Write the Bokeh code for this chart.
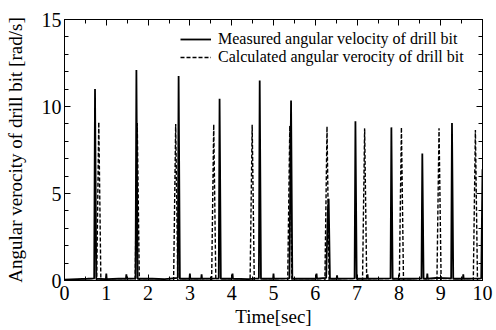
from bokeh.plotting import figure
from bokeh.models import Range1d, LinearAxis, Legend, LegendItem, FixedTicker
from bokeh.embed import file_html
from bokeh.resources import INLINE

# Measured angular velocity of drill bit (time [s], value [rad/s])
measured_t = [0.00, 0.30, 0.55, 0.71, 0.73, 0.76, 0.99, 1.00, 1.01, 1.30, 1.47, 1.48, 1.49,
              1.70, 1.72, 1.75, 2.10, 2.40, 2.71, 2.73, 2.76, 2.99, 3.00, 3.01, 3.27, 3.28, 3.29,
              3.69, 3.71, 3.74, 4.01, 4.02, 4.03, 4.40, 4.65, 4.67, 4.70, 4.99, 5.00, 5.01,
              5.38, 5.42, 5.45, 6.02, 6.03, 6.04, 6.26, 6.30, 6.32, 6.35, 6.51, 6.52, 6.53,
              6.94, 6.96, 6.99, 7.24, 7.25, 7.26, 7.80, 7.82, 7.85, 8.30, 8.54, 8.56, 8.59,
              8.67, 8.68, 8.69, 8.90, 9.25, 9.27, 9.30, 9.53, 9.54, 9.55, 9.97, 10.00]
measured_v = [0.05, 0.08, 0.10, 0.12, 11.0, 0.10, 0.08, 0.40, 0.08, 0.10, 0.10, 0.35, 0.10,
              0.12, 12.1, 0.10, 0.10, 0.08, 0.15, 11.75, 0.10, 0.10, 0.40, 0.10, 0.10, 0.35, 0.10,
              0.12, 10.45, 0.10, 0.10, 0.40, 0.10, 0.08, 0.12, 11.5, 0.10, 0.10, 0.40, 0.10,
              0.12, 10.35, 0.10, 0.10, 0.40, 0.10, 0.15, 4.0, 4.7, 0.10, 0.10, 0.30, 0.10,
              0.12, 9.15, 0.10, 0.10, 0.35, 0.10, 0.12, 8.8, 0.10, 0.10, 0.12, 7.3, 0.10,
              0.10, 0.40, 0.10, 0.15, 0.12, 9.05, 0.10, 0.10, 0.35, 0.10, 0.12, 6.4]

# Calculated angular velocity of drill bit
calc_t = [0.00, 0.77, 0.82, 0.87, 1.69, 1.74, 1.79, 2.61, 2.66, 2.71, 3.52, 3.57, 3.62,
          4.44, 4.49, 4.54, 5.34, 5.39, 5.44, 6.23, 6.28, 6.33, 7.13, 7.18, 7.23,
          8.01, 8.06, 8.11, 8.91, 8.96, 9.01, 9.78, 9.83, 9.88, 10.00]
calc_v = [0.0, 0.0, 9.1, 0.0, 0.0, 9.05, 0.0, 0.0, 9.0, 0.0, 0.0, 8.97, 0.0,
          0.0, 8.95, 0.0, 0.0, 8.9, 0.0, 0.0, 8.85, 0.0, 0.0, 8.75, 0.0,
          0.0, 8.8, 0.0, 0.0, 8.75, 0.0, 0.0, 8.65, 0.0, 0.0]

x_ticks = [0, 1, 2, 3, 4, 5, 6, 7, 8, 9, 10]
y_ticks = [0, 5, 10, 15]

FONT = "Times New Roman, Liberation Serif, serif"

p = figure(width=496, height=330, output_backend="svg", toolbar_location=None,
           x_range=Range1d(0, 10), y_range=Range1d(0, 15),
           min_border_left=64, min_border_right=14, min_border_top=19, min_border_bottom=50,
           x_axis_label="Time[sec]", y_axis_label="Angular verocity of drill bit [rad/s]")
p.xgrid.visible = False
p.ygrid.visible = False
p.outline_line_color = "black"
p.outline_line_width = 1
p.background_fill_color = "white"
p.border_fill_color = "white"

r1 = p.line(measured_t, measured_v, line_color="black", line_width=1.8)
r2 = p.line(calc_t, calc_v, line_color="black", line_width=1.4, line_dash="4 2")

def style_axis(ax, labels=True):
    ax.axis_line_color = "black"
    ax.major_tick_in = 6
    ax.major_tick_out = 0
    ax.minor_tick_in = 4
    ax.minor_tick_out = 0
    ax.major_tick_line_color = "black"
    ax.minor_tick_line_color = "black"
    ax.major_label_text_font = FONT
    ax.major_label_text_font_size = "20px"
    ax.major_label_text_color = "black" if labels else None
    ax.axis_label_text_font = FONT
    ax.axis_label_text_font_size = "19px"
    ax.axis_label_text_font_style = "normal"
    ax.axis_label_text_color = "black"

xt = FixedTicker(ticks=x_ticks, minor_ticks=[i * 0.5 for i in range(21)])
yt = FixedTicker(ticks=y_ticks, minor_ticks=list(range(16)))

p.xaxis[0].ticker = xt
p.yaxis[0].ticker = yt
style_axis(p.xaxis[0])
style_axis(p.yaxis[0])
p.xaxis[0].major_label_standoff = 5
p.xaxis[0].axis_label_standoff = 3
p.yaxis[0].major_label_standoff = 3
p.yaxis[0].axis_label_standoff = 13

top = LinearAxis(ticker=FixedTicker(ticks=x_ticks, minor_ticks=[i * 0.5 for i in range(21)]))
style_axis(top, labels=False)
top.major_label_text_font_size = "0px"
top.major_label_standoff = 0
p.add_layout(top, "above")
right = LinearAxis(ticker=FixedTicker(ticks=y_ticks, minor_ticks=list(range(16))))
style_axis(right, labels=False)
right.major_label_text_font_size = "0px"
right.major_label_standoff = 0
p.add_layout(right, "right")

legend = Legend(items=[LegendItem(label="Measured angular velocity of drill bit", renderers=[r1]),
                       LegendItem(label="Calculated angular verocity of drill bit", renderers=[r2])],
                location=(116, 214))
legend.label_text_font = FONT
legend.label_text_font_size = "16px"
legend.label_text_color = "black"
legend.background_fill_alpha = 0
legend.border_line_color = None
legend.glyph_width = 31
legend.glyph_height = 18
legend.label_height = 18
legend.label_standoff = 7
legend.spacing = -3
legend.padding = 4
legend.margin = 0
p.add_layout(legend)

open("out.html", "w").write(file_html(p, INLINE))
